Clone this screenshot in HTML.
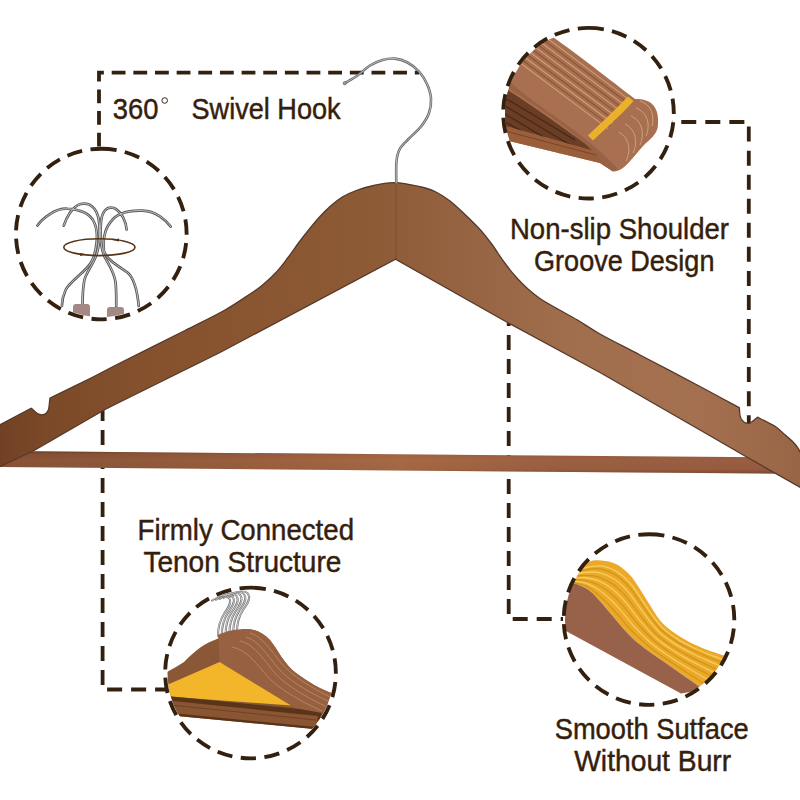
<!DOCTYPE html>
<html><head><meta charset="utf-8">
<style>
html,body{margin:0;padding:0;background:#fff;}
svg{display:block;}
text{font-family:"Liberation Sans",sans-serif;fill:#361e0c;}
</style></head>
<body>
<svg width="800" height="800" viewBox="0 0 800 800">
<defs>
  <linearGradient id="wood" gradientUnits="userSpaceOnUse" x1="0" y1="0" x2="800" y2="0">
    <stop offset="0" stop-color="#724124"/>
    <stop offset="0.07" stop-color="#7d4a29"/>
    <stop offset="0.2" stop-color="#86522e"/>
    <stop offset="0.45" stop-color="#8c5a34"/>
    <stop offset="0.5" stop-color="#905d3a"/>
    <stop offset="0.56" stop-color="#946240"/>
    <stop offset="0.72" stop-color="#a26f4e"/>
    <stop offset="0.87" stop-color="#a47050"/>
    <stop offset="1" stop-color="#986546"/>
  </linearGradient>
  <linearGradient id="bar" gradientUnits="userSpaceOnUse" x1="0" y1="0" x2="800" y2="0">
    <stop offset="0" stop-color="#885236"/>
    <stop offset="0.3" stop-color="#985e3e"/>
    <stop offset="0.5" stop-color="#a76946"/>
    <stop offset="0.7" stop-color="#9c6041"/>
    <stop offset="1" stop-color="#985d41"/>
  </linearGradient>
  <linearGradient id="barv" x1="0" y1="0" x2="0" y2="1">
    <stop offset="0" stop-color="#4a2a18" stop-opacity="0.55"/>
    <stop offset="0.14" stop-color="#4a2a18" stop-opacity="0.1"/>
    <stop offset="0.4" stop-color="#4a2a18" stop-opacity="0"/>
    <stop offset="0.8" stop-color="#4a2a18" stop-opacity="0.05"/>
    <stop offset="1" stop-color="#4a2a18" stop-opacity="0.4"/>
  </linearGradient>
  <clipPath id="c1"><circle cx="101" cy="234" r="83"/></clipPath>
  <clipPath id="c2"><circle cx="588" cy="113" r="83"/></clipPath>
  <clipPath id="c3"><circle cx="250.5" cy="673" r="83"/></clipPath>
  <clipPath id="c4"><circle cx="649" cy="619.5" r="84"/></clipPath>
</defs>
<rect width="800" height="800" fill="#fff"/>

<!-- dashed connectors -->
<g fill="none" stroke="#33200f" stroke-width="3.8">
  <path d="M99 148 V72.6 H419" stroke-dasharray="13.8 7.85" stroke-dashoffset="20.15"/>
  <path d="M672 122 H748.8 V424" stroke-dasharray="15 9.05" stroke-dashoffset="14.8"/>
  <path d="M102.6 406 V689.5 H166" stroke-dasharray="15 9"/>
  <path d="M508.7 323 V619 H563" stroke-dasharray="15 9" stroke-dashoffset="12"/>
</g>

<!-- bar -->
<path d="M-2 451 L785 457.5 L785 473.8 L-2 467 Z" fill="url(#bar)"/>
<path d="M-2 451 L785 457.5 L785 473.8 L-2 467 Z" fill="url(#barv)"/>

<!-- hanger body -->
<path d="M-5 427.5 L31.25 408.3 C33.5 409.5 35.5 413.5 39.5 414.5 C43.5 415.5 47 413.5 48.5 409.5 C49.4 406.5 49.3 402 50 398.1 L52 397.2 C58.33 394.08 78.67 384.20 90.00 378.50 C101.33 372.80 104.17 371.00 120.00 363.00 C135.83 355.00 167.50 339.33 185.00 330.50 C202.50 321.67 214.17 316.08 225.00 310.00 C235.83 303.92 243.83 298.08 250.00 294.00 C256.17 289.92 257.67 289.08 262.00 285.50 C266.33 281.92 271.67 277.17 276.00 272.50 C280.33 267.83 284.25 262.42 288.00 257.50 C291.75 252.58 295.00 247.67 298.50 243.00 C302.00 238.33 305.50 233.83 309.00 229.50 C312.50 225.17 316.00 220.83 319.50 217.00 C323.00 213.17 326.21 209.83 330.00 206.50 C333.79 203.17 337.88 199.67 342.25 197.00 C346.62 194.33 351.00 192.42 356.25 190.50 C361.50 188.58 367.29 186.82 373.75 185.50 C380.21 184.18 387.29 182.39 395.00 182.60 C402.71 182.81 413.33 185.27 420.00 186.75 C426.67 188.23 430.00 189.12 435.00 191.50 C440.00 193.88 445.00 197.17 450.00 201.00 C455.00 204.83 460.00 209.75 465.00 214.50 C470.00 219.25 475.50 224.50 480.00 229.50 C484.50 234.50 488.00 239.08 492.00 244.50 C496.00 249.92 500.00 256.58 504.00 262.00 C508.00 267.42 512.00 272.50 516.00 277.00 C520.00 281.50 524.00 285.42 528.00 289.00 C532.00 292.58 535.50 295.42 540.00 298.50 C544.50 301.58 548.75 303.92 555.00 307.50 C561.25 311.08 570.00 315.58 577.50 320.00 C585.00 324.42 589.58 328.17 600.00 334.00 C610.42 339.83 623.33 346.25 640.00 355.00 C656.67 363.75 683.43 377.70 700.00 386.50 C716.57 395.30 732.83 404.25 739.40 407.80 C739.6 410 739 414 741 418.5 C743 422 746 423.6 748.75 423.4 C751.5 423 754 420 757.5 417.2 C760.42 418.72 770.42 423.37 775.00 426.30 C779.58 429.23 781.92 432.10 785.00 434.80 C788.08 437.50 791.33 440.30 793.50 442.50 C795.67 444.70 796.42 445.42 798.00 448.00 C799.58 450.58 802.17 456.33 803.00 458.00 L805 490 L747.5 457.5 L700 430 L600 372.5 L507.5 322.5 L395.5 259.3 L220 352.5 L120 402 L105 409.5 L35 450 L-5 469 Z" fill="url(#wood)" stroke="#55392a" stroke-width="1.3"/>
<line x1="396" y1="183" x2="396" y2="259" stroke="#6a3f22" stroke-width="0.8" opacity="0.6"/>

<!-- hook -->
<path d="M344.6 83.3 C346.75 82.00 353.27 78.47 357.50 75.50 C361.73 72.53 365.83 68.08 370.00 65.50 C374.17 62.92 378.33 61.15 382.50 60.00 C386.67 58.85 390.83 58.18 395.00 58.60 C399.17 59.02 403.50 60.35 407.50 62.50 C411.50 64.65 415.75 67.92 419.00 71.50 C422.25 75.08 425.00 79.50 427.00 84.00 C429.00 88.50 430.67 93.67 431.00 98.50 C431.33 103.33 430.67 108.33 429.00 113.00 C427.33 117.67 424.50 122.08 421.00 126.50 C417.50 130.92 411.58 135.67 408.00 139.50 C404.42 143.33 401.43 145.75 399.50 149.50 C397.57 153.25 396.93 156.42 396.40 162.00 C395.87 167.58 396.32 179.50 396.30 183.00" fill="none" stroke="#6a6a6a" stroke-width="2.6" stroke-linecap="round"/>
<path d="M344.6 83.3 C346.75 82.00 353.27 78.47 357.50 75.50 C361.73 72.53 365.83 68.08 370.00 65.50 C374.17 62.92 378.33 61.15 382.50 60.00 C386.67 58.85 390.83 58.18 395.00 58.60 C399.17 59.02 403.50 60.35 407.50 62.50 C411.50 64.65 415.75 67.92 419.00 71.50 C422.25 75.08 425.00 79.50 427.00 84.00 C429.00 88.50 430.67 93.67 431.00 98.50 C431.33 103.33 430.67 108.33 429.00 113.00 C427.33 117.67 424.50 122.08 421.00 126.50 C417.50 130.92 411.58 135.67 408.00 139.50 C404.42 143.33 401.43 145.75 399.50 149.50 C397.57 153.25 396.93 156.42 396.40 162.00 C395.87 167.58 396.32 179.50 396.30 183.00" fill="none" stroke="#d0d0d0" stroke-width="0.8"/>
<circle cx="344.8" cy="83.2" r="1.7" fill="#9a9a9a" stroke="#666" stroke-width="0.6"/>

<!-- inset 1: swivel hooks -->
<g clip-path="url(#c1)">
  <g fill="none" stroke-linecap="round">
    <g stroke="#575757" stroke-width="2.7">
      <path d="M37.5 225.6 C42 219 55 208 67.5 208.75 C78 209 90 213 94 222 C99 232 97 250 91.9 261.25 C86 272 70 281 65.6 290 C62 298 62 302 61.9 306"/>
      <path d="M63.75 225.6 C66 219 72 206 80.6 204 C90 202 96 208 98.5 218 C101 232 99 248 96 256 C92 266 86 273 84.4 280 C82.5 290 82.5 300 82.5 306"/>
      <path d="M126.6 229.4 C126 222 122 212 114 208 C106 206 102 212 101 222 C100 236 101 250 105 257.5 C109 265 114 272 115.5 282 C116.5 292 116.25 300 116.25 306"/>
      <path d="M170.6 226.6 C166 220 156 211 142.5 210.6 C128 210 116 214 110.6 221.9 C104 230 103 242 104 251 C106 259 118 266 127.5 272.5 C134 278 137 288 138.75 306"/>
    </g>
    <g stroke="#dedede" stroke-width="0.8">
      <path d="M37.5 225.6 C42 219 55 208 67.5 208.75 C78 209 90 213 94 222 C99 232 97 250 91.9 261.25 C86 272 70 281 65.6 290 C62 298 62 302 61.9 306"/>
      <path d="M63.75 225.6 C66 219 72 206 80.6 204 C90 202 96 208 98.5 218 C101 232 99 248 96 256 C92 266 86 273 84.4 280 C82.5 290 82.5 300 82.5 306"/>
      <path d="M126.6 229.4 C126 222 122 212 114 208 C106 206 102 212 101 222 C100 236 101 250 105 257.5 C109 265 114 272 115.5 282 C116.5 292 116.25 300 116.25 306"/>
      <path d="M170.6 226.6 C166 220 156 211 142.5 210.6 C128 210 116 214 110.6 221.9 C104 230 103 242 104 251 C106 259 118 266 127.5 272.5 C134 278 137 288 138.75 306"/>
    </g>
  </g>
  <ellipse cx="99.4" cy="247.2" rx="35.6" ry="8.4" fill="none" stroke="#5a3414" stroke-width="1.6"/>
  <path d="M112 240 l7 -1.6 l0 3.2 z M87 254.5 l-7 1.6 l0 -3.2 z" fill="#5a3414"/>
  <rect x="73" y="304" width="17" height="16" rx="3" fill="#a48884"/>
  <rect x="107" y="307" width="17" height="14" rx="3" fill="#a48884"/>
</g>

<!-- inset 2: stacked shoulders -->
<g clip-path="url(#c2)">
  <path d="M470 10 L551.5 36.3 C575 52 610 80 635 99 C642 99 649 100 653 105 C658 110 659 120 657.5 128.5 C656 134 650 140 646 143 C641 148 638 152 635 155.5 C630 161 626 166 621.5 169 C618 171 615 172 612.5 171.3 L600 163 L505 140 L470 133 Z" fill="#a87050"/>
  <g fill="none" stroke-width="1.1">
    <path d="M500.8 3.4 L631.8 101.6 M496.5 9.1 L627.0 107.0 M492.2 14.9 L622.2 112.4 M487.9 20.7 L617.4 117.8 M483.6 26.4 L612.6 123.2 M479.2 32.2 L607.8 128.6" stroke="#d4a27c" opacity="0.9"/>
    <path d="M498.7 6.3 L629.4 104.3 M494.4 12.0 L624.6 109.7 M490.0 17.8 L619.8 115.1 M485.7 23.5 L615.0 120.5 M481.4 29.3 L610.2 125.9" stroke="#84502f" opacity="0.8"/>
  </g>
  <g fill="none" stroke="#d8aa84" stroke-width="1" opacity="0.85">
    <path d="M640 101 C650 104 655 114 652 126"/>
    <path d="M636 108 C647 112 651 124 646 136"/>
    <path d="M631 116 C642 121 645 133 640 145"/>
    <path d="M625 124 C636 130 638 142 633 153"/>
    <path d="M619 132 C630 139 631 151 626 161"/>
  </g>
  <path d="M470 68 L504.5 88 C530 104 560 125 585.5 144 L594 151 L505 126 L470 120 Z" fill="#6a3f24"/>
  <g fill="none" stroke="#3f2212" stroke-width="1.2" opacity="0.75">
    <path d="M500 95 L575 140"/><path d="M500 103 L572 146"/><path d="M500 111 L565 150"/><path d="M500 119 L560 153"/>
  </g>
  <path d="M470 120 L505 126 L594 151 L612.5 171.3 L600 163 L505 140 L470 133 Z" fill="#9a5e3b"/><path d="M505 131 L600 156" stroke="#7a4528" stroke-width="1" fill="none"/>
  <path d="M505 86 C530 102 560 122 585.5 144 L612.5 171.3 L618 169 C600 150 585 138 560 120 C540 106 520 92 508 80 Z" fill="#986246"/>
  <path d="M588 135.5 C600 124 615 110 628 96.5 L633.5 101 C622 114 606 128 593 140.5 Z" fill="#eab12a"/>
</g>

<!-- inset 3: hanger stack -->
<g clip-path="url(#c3)">
  <g fill="none" stroke-linecap="round"><path d="M237.0 632.0 C237.0 622.0 239.0 616.0 243.0 610.0 C247.0 604.0 250.0 600.0 249.0 596.0 C248.0 592.0 244.0 590.5 240.0 591.5 C236.0 592.5 233.0 594.5 231.0 596.5" stroke="#767676" stroke-width="2.1"/><path d="M237.0 632.0 C237.0 622.0 239.0 616.0 243.0 610.0 C247.0 604.0 250.0 600.0 249.0 596.0 C248.0 592.0 244.0 590.5 240.0 591.5 C236.0 592.5 233.0 594.5 231.0 596.5" stroke="#eeeeee" stroke-width="0.7"/><path d="M233.2 632.8 C233.2 622.8 235.2 616.8 239.2 610.8 C243.2 604.8 246.2 600.8 245.2 596.8 C244.2 592.8 240.2 591.3 236.2 592.3 C232.2 593.3 229.2 595.3 227.2 597.3" stroke="#767676" stroke-width="2.1"/><path d="M233.2 632.8 C233.2 622.8 235.2 616.8 239.2 610.8 C243.2 604.8 246.2 600.8 245.2 596.8 C244.2 592.8 240.2 591.3 236.2 592.3 C232.2 593.3 229.2 595.3 227.2 597.3" stroke="#eeeeee" stroke-width="0.7"/><path d="M229.4 633.6 C229.4 623.6 231.4 617.6 235.4 611.6 C239.4 605.6 242.4 601.6 241.4 597.6 C240.4 593.6 236.4 592.1 232.4 593.1 C228.4 594.1 225.4 596.1 223.4 598.1" stroke="#767676" stroke-width="2.1"/><path d="M229.4 633.6 C229.4 623.6 231.4 617.6 235.4 611.6 C239.4 605.6 242.4 601.6 241.4 597.6 C240.4 593.6 236.4 592.1 232.4 593.1 C228.4 594.1 225.4 596.1 223.4 598.1" stroke="#eeeeee" stroke-width="0.7"/><path d="M225.6 634.4 C225.6 624.4 227.6 618.4 231.6 612.4 C235.6 606.4 238.6 602.4 237.6 598.4 C236.6 594.4 232.6 592.9 228.6 593.9 C224.6 594.9 221.6 596.9 219.6 598.9" stroke="#767676" stroke-width="2.1"/><path d="M225.6 634.4 C225.6 624.4 227.6 618.4 231.6 612.4 C235.6 606.4 238.6 602.4 237.6 598.4 C236.6 594.4 232.6 592.9 228.6 593.9 C224.6 594.9 221.6 596.9 219.6 598.9" stroke="#eeeeee" stroke-width="0.7"/><path d="M221.8 635.2 C221.8 625.2 223.8 619.2 227.8 613.2 C231.8 607.2 234.8 603.2 233.8 599.2 C232.8 595.2 228.8 593.7 224.8 594.7 C220.8 595.7 217.8 597.7 215.8 599.7" stroke="#767676" stroke-width="2.1"/><path d="M221.8 635.2 C221.8 625.2 223.8 619.2 227.8 613.2 C231.8 607.2 234.8 603.2 233.8 599.2 C232.8 595.2 228.8 593.7 224.8 594.7 C220.8 595.7 217.8 597.7 215.8 599.7" stroke="#eeeeee" stroke-width="0.7"/><path d="M218.0 636.0 C218.0 626.0 220.0 620.0 224.0 614.0 C228.0 608.0 231.0 604.0 230.0 600.0 C229.0 596.0 225.0 594.5 221.0 595.5 C217.0 596.5 214.0 598.5 212.0 600.5" stroke="#767676" stroke-width="2.1"/><path d="M218.0 636.0 C218.0 626.0 220.0 620.0 224.0 614.0 C228.0 608.0 231.0 604.0 230.0 600.0 C229.0 596.0 225.0 594.5 221.0 595.5 C217.0 596.5 214.0 598.5 212.0 600.5" stroke="#eeeeee" stroke-width="0.7"/></g>
  <path d="M160 676 C170 670 178 666 184 662 C192 654 200 646 212 641 C222 637 235 630 246 629 C256 629 263 633 270 640 C278 650 284 664 296 673 C308 682 322 690 334 694 L336 700 L320 724 L316 729 L177 716 L160 705 Z" fill="#8a5836"/>
  <path d="M218 635 C226 631 236 629 246 629 C256 629 263 633 270 640 C278 650 284 664 296 673 C308 682 322 690 334 694 L336 700 L320 724 L300 712 L290.5 705 L219.6 662 Z" fill="#976142"/><g fill="none" stroke="#c08c68" stroke-width="0.9" opacity="0.9"><path d="M250 633 C262 636 272 652 282 664 C292 676 312 688 330 697"/><path d="M246 637 C258 640 268 656 278 668 C288 680 308 692 328 701"/><path d="M240 641 C254 644 264 660 274 672 C284 684 304 696 325 706"/><path d="M232 647 C248 650 258 666 268 677 C278 688 298 700 322 711"/></g>
  <path d="M168 684.5 L219.6 662 L291 705.5 L168 696.5 Z" fill="#f3b52a"/>
  <path d="M166 696 L300 709 L322 713 L318 729.5 L177 716 L166 706 Z" fill="#5a3419"/>
  <path d="M168 700.5 L318 716 L316 727 L177 713.5 Z" fill="#8a5533"/><path d="M170 705 L316 720" stroke="#6e4226" stroke-width="1" fill="none"/>
</g>

<!-- inset 4: smooth surface -->
<g clip-path="url(#c4)">
  <path d="M556 582 C557.67 580.50 562.04 575.50 566.00 573.00 C569.96 570.50 575.21 569.08 579.75 567.00 C584.29 564.92 587.62 561.17 593.25 560.50 C598.88 559.83 607.50 560.71 613.50 563.00 C619.50 565.29 624.75 569.75 629.25 574.25 C633.75 578.75 636.75 584.38 640.50 590.00 C644.25 595.62 648.00 602.38 651.75 608.00 C655.50 613.62 658.12 618.88 663.00 623.75 C667.88 628.62 674.25 633.12 681.00 637.25 C687.75 641.38 695.00 645.04 703.50 648.50 C712.00 651.96 727.25 656.42 732.00 658.00 L700 687 C698.33 685.83 695.42 683.79 690.00 680.00 C684.58 676.21 675.00 669.50 667.50 664.25 C660.00 659.00 651.38 653.38 645.00 648.50 C638.62 643.62 634.50 640.25 629.25 635.00 C624.00 629.75 618.38 622.62 613.50 617.00 C608.62 611.38 604.12 605.75 600.00 601.25 C595.88 596.75 593.25 593.00 588.75 590.00 C584.25 587.00 578.46 584.25 573.00 583.25 C567.54 582.25 558.83 583.88 556.00 584.00 Z" fill="#eaa928"/>
  <path d="M567.4 575.1 C570.16 574.22 578.46 571.11 583.94 570.10 C589.43 569.09 594.91 568.11 600.31 568.99 C605.72 569.87 611.51 572.28 616.39 575.36 C621.27 578.44 625.63 582.99 629.58 587.46 C633.53 591.92 636.64 597.24 640.12 602.14 C643.60 607.04 646.82 612.11 650.46 616.86 C654.11 621.60 657.65 626.51 662.00 630.59 C666.34 634.68 671.47 638.13 676.53 641.37 C681.59 644.60 687.00 647.35 692.38 650.01 C697.77 652.66 703.29 655.00 708.83 657.30 C714.36 659.60 722.80 662.72 725.60 663.80 M568.9 577.3 C571.57 576.98 579.62 575.35 584.74 575.35 C589.86 575.34 594.77 575.68 599.66 577.29 C604.54 578.90 609.61 581.74 614.05 585.01 C618.50 588.28 622.55 592.63 626.32 596.91 C630.09 601.19 633.20 606.14 636.69 610.67 C640.18 615.20 643.56 619.78 647.26 624.10 C650.96 628.43 654.63 632.83 658.88 636.61 C663.14 640.39 668.01 643.66 672.81 646.79 C677.61 649.93 682.66 652.71 687.70 655.43 C692.73 658.15 697.86 660.64 703.01 663.10 C708.15 665.55 715.97 669.00 718.56 670.18 M570.4 579.5 C572.92 579.61 580.73 579.40 585.50 580.36 C590.27 581.31 594.64 582.90 599.03 585.21 C603.42 587.52 607.79 590.77 611.82 594.22 C615.85 597.67 619.61 601.84 623.21 605.93 C626.81 610.03 629.91 614.63 633.41 618.81 C636.91 622.99 640.46 627.10 644.21 631.02 C647.96 634.94 651.73 638.86 655.91 642.35 C660.08 645.84 664.71 648.93 669.26 651.97 C673.81 655.02 678.52 657.83 683.22 660.61 C687.92 663.39 692.68 666.02 697.45 668.63 C702.22 671.24 709.44 675.00 711.84 676.27 M572.2 582.0 C574.53 582.74 582.05 584.21 586.40 586.32 C590.76 588.42 594.49 591.50 598.28 594.64 C602.07 597.79 605.62 601.51 609.16 605.18 C612.70 608.86 616.12 612.79 619.51 616.68 C622.90 620.57 626.00 624.75 629.51 628.51 C633.02 632.27 636.76 635.81 640.57 639.26 C644.38 642.70 648.29 646.04 652.37 649.19 C656.45 652.34 660.78 655.21 665.03 658.14 C669.29 661.07 673.59 663.93 677.89 666.78 C682.19 669.62 686.52 672.42 690.84 675.21 C695.17 678.00 701.67 682.13 703.84 683.52" fill="none" stroke="#d08f1c" stroke-width="1.3" opacity="0.8"/>
  <path d="M566.8 574.2 C569.64 573.22 578.03 569.57 583.65 568.19 C589.27 566.82 594.95 565.36 600.55 565.97 C606.15 566.58 612.21 568.84 617.24 571.85 C622.28 574.86 626.75 579.49 630.77 584.02 C634.79 588.55 637.89 594.00 641.37 599.03 C644.84 604.07 648.00 609.33 651.63 614.22 C655.25 619.12 658.75 624.21 663.13 628.40 C667.51 632.60 672.72 636.12 677.88 639.39 C683.04 642.67 688.58 645.40 694.09 648.03 C699.60 650.67 705.26 652.96 710.94 655.20 C716.62 657.44 725.29 660.43 728.16 661.48 M568.1 576.1 C570.80 575.48 578.99 573.04 584.30 572.48 C589.62 571.93 594.84 571.55 600.01 572.76 C605.19 573.97 610.65 576.58 615.33 579.74 C620.01 582.91 624.23 587.37 628.10 591.75 C631.97 596.13 635.07 601.28 638.56 606.01 C642.04 610.75 645.34 615.60 649.01 620.15 C652.68 624.70 656.28 629.38 660.58 633.33 C664.89 637.27 669.89 640.64 674.84 643.83 C679.78 647.03 685.03 649.79 690.25 652.47 C695.48 655.16 700.82 657.57 706.18 659.94 C711.54 662.31 719.70 665.57 722.40 666.70 M569.6 578.3 C572.22 578.23 580.15 577.28 585.10 577.73 C590.05 578.19 594.71 579.12 599.36 581.06 C604.01 583.01 608.74 586.04 612.99 589.39 C617.24 592.75 621.15 597.02 624.84 601.21 C628.53 605.40 631.63 610.18 635.13 614.55 C638.62 618.91 642.08 623.27 645.81 627.40 C649.53 631.53 653.25 635.70 657.47 639.34 C661.69 642.99 666.44 646.17 671.12 649.26 C675.80 652.35 680.69 655.15 685.56 657.90 C690.44 660.64 695.40 663.20 700.36 665.73 C705.33 668.26 712.86 671.85 715.36 673.08 M571.2 580.7 C573.70 581.11 581.36 581.71 585.93 583.22 C590.50 584.73 594.57 587.03 598.67 589.74 C602.77 592.45 606.75 595.92 610.54 599.48 C614.34 603.04 617.93 607.09 621.43 611.09 C624.93 615.09 628.04 619.49 631.54 623.47 C635.05 627.45 638.68 631.28 642.46 634.97 C646.24 638.67 650.08 642.31 654.21 645.63 C658.34 648.96 662.82 651.95 667.23 654.94 C671.64 657.92 676.15 660.76 680.66 663.57 C685.17 666.38 689.72 669.09 694.28 671.79 C698.84 674.48 705.71 678.42 708.00 679.75" fill="none" stroke="#fbd061" stroke-width="1.3" opacity="0.9"/>
  <path d="M700 687 C698.33 685.83 695.42 683.79 690.00 680.00 C684.58 676.21 675.00 669.50 667.50 664.25 C660.00 659.00 651.38 653.38 645.00 648.50 C638.62 643.62 634.50 640.25 629.25 635.00 C624.00 629.75 618.38 622.62 613.50 617.00 C608.62 611.38 604.12 605.75 600.00 601.25 C595.88 596.75 593.25 593.00 588.75 590.00 C584.25 587.00 578.46 584.25 573.00 583.25 C567.54 582.25 558.83 583.88 556.00 584.00 L556 625.5 L681 693.5 L694.5 691.25 Z" fill="#98614a"/>
</g>

<!-- circles -->
<g fill="none" stroke="#33200f" stroke-width="3.85" stroke-dasharray="15.4 8.43">
  <path d="M101.3 148.7 A85.3 85.3 0 1 1 101.3 319.3 A85.3 85.3 0 1 1 101.3 148.7"/>
  <path d="M588.5 27.900000000000006 A85.3 85.3 0 1 1 588.5 198.5 A85.3 85.3 0 1 1 588.5 27.900000000000006"/>
  <path d="M250.5 587.7 A85.3 85.3 0 1 1 250.5 758.3 A85.3 85.3 0 1 1 250.5 587.7"/>
  <path d="M649 534.2 A85.3 85.3 0 1 1 649 704.8 A85.3 85.3 0 1 1 649 534.2"/>
</g>

<!-- text -->
<g font-size="29.5" stroke="#361e0c" stroke-width="0.45">
  <text x="112.87" y="119.00" textLength="45.69" lengthAdjust="spacingAndGlyphs">360</text>
  <circle cx="164.7" cy="100.5" r="2.8" fill="none" stroke="#3c2412" stroke-width="1"/>
  <text x="191.49" y="118.80" textLength="149.12" lengthAdjust="spacingAndGlyphs">Swivel Hook</text>
  <text x="509.98" y="238.90" textLength="219.02" lengthAdjust="spacingAndGlyphs">Non-slip Shoulder</text>
  <text x="534.08" y="270.80" textLength="180.34" lengthAdjust="spacingAndGlyphs">Groove Design</text>
  <text x="137.55" y="539.70" textLength="216.47" lengthAdjust="spacingAndGlyphs">Firmly Connected</text>
  <text x="143.39" y="572.10" textLength="198.03" lengthAdjust="spacingAndGlyphs">Tenon Structure</text>
  <text x="554.69" y="738.60" textLength="194.03" lengthAdjust="spacingAndGlyphs">Smooth Sutface</text>
  <text x="574.20" y="770.60" textLength="157.00" lengthAdjust="spacingAndGlyphs">Without Burr</text>
</g>
</svg>
</body></html>
